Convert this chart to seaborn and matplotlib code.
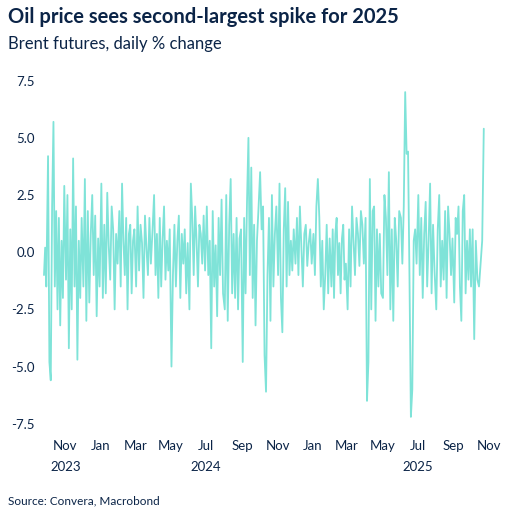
import matplotlib
matplotlib.use("Agg")
import matplotlib.pyplot as plt
import matplotlib.dates as mdates
import seaborn as sns
import pandas as pd

m2023_09 = [-1.0, 0.2, -1.5]
m2023_10 = [4.2, -4.8, -5.6, 2.0, 5.7, -1.5, 1.8, -2.5, 1.5, -3.2, 0.5, -2.0, 2.9]
m2023_11 = [-1.2, 2.5, -4.2, 1.0, -2.5, 4.1, -1.5, 2.0, -4.7, 0.5, -2.0, 1.5]
m2023_12 = [-1.5, 3.2, -3.0, 1.8, -2.2, 0.8, 2.5, -1.0, 1.6, -2.8, 0.6, -1.5]
m2024_01 = [3.0, -2.0, 1.2, -1.8, 2.6, 0.3, -1.2, 2.0, 1.0, -2.5, 0.8, -0.5]
m2024_02 = [1.8, -1.5, 3.0, 0.5, -1.0, 1.5, -2.5, 0.8, 1.2, -1.8, 0.5, 1.0]
m2024_03 = [-1.5, 2.0, -0.8, 1.2, 0.4, -2.0, 1.6, 0.2, -1.0, 1.5, -0.5, 0.8]
m2024_04 = [2.5, -1.0, 0.8, -2.0, 1.5, -1.5, 0.6, 2.0, -1.2, 0.5, -0.8, 1.0]
m2024_05 = [-5.0, -1.0, 1.2, -1.5, 0.5, 1.6, -2.0, 0.8, -0.5, 1.0, -1.8, 0.4]
m2024_06 = [-2.5, 3.0, 1.5, -1.0, 2.0, 0.5, -1.5, 1.2, 0.8, -0.5, 1.6, -0.8]
m2024_07 = [2.0, -1.0, 0.5, -4.2, 1.8, -1.5, 0.3, -2.8, 1.5, -1.0, 2.3, -1.8]
m2024_08 = [-2.5, 2.5, -3.0, 1.2, 3.2, -1.8, 0.8, -2.0, 1.5, -2.5, 0.6, 1.0]
m2024_09 = [-4.8, 1.5, -1.8, 2.2, 5.0, -1.0, 3.7, -2.0, 1.2, -3.2, 0.5, 1.8]
m2024_10 = [3.5, 1.0, 2.0, -4.5, -6.1, -1.0, 1.5, -3.0, 2.5, -1.5, 0.8, 2.0]
m2024_11 = [-1.0, 3.0, -2.0, -3.5, 1.0, 2.8, -1.5, 2.2, -1.0, 0.5, -0.8, 1.0]
m2024_12 = [-0.5, 1.5, -1.0, 2.0, 0.3, -1.5, 0.8, 1.2, -0.6, 0.4, 1.0, -0.5]
m2025_01 = [0.8, -1.0, 2.0, 3.2, 1.5, -1.5, 0.5, -2.5, -1.0, 1.2, -1.8, 0.6]
m2025_02 = [-1.5, 1.0, -2.0, 0.8, 1.5, -1.0, 0.4, -1.8, 0.6, 1.2, -1.2, -0.5]
m2025_03 = [-2.5, 1.0, -1.5, 2.0, 0.5, -1.0, 1.5, 0.8, -0.6, 1.8, 1.2, -0.5]
m2025_04 = [1.5, -6.5, -4.8, 3.2, -2.5, 1.8, 2.0, -3.0, 1.0, -1.5, 0.8, -1.8]
m2025_05 = [-2.0, 2.5, 1.5, -1.0, 3.5, -2.5, 1.0, -3.0, 1.5, 0.5, -1.5, 1.8]
m2025_06 = [1.5, -0.5, 2.0, 7.0, 4.3, 4.4, -1.0, -7.2, -6.0, 0.5, 1.0, -0.5]
m2025_07 = [2.5, -1.0, 1.5, -2.0, 0.8, 2.2, -1.5, 0.5, 3.0, -1.8, 1.2, -0.8]
m2025_08 = [-2.5, 1.0, 2.5, -1.5, 0.5, -1.2, 1.8, -2.0, 2.0, 0.8, -1.0, 0.6]
m2025_09 = [-2.2, 1.5, 0.8, 2.0, -1.5, -3.0, 1.8, 2.5, -1.8, 0.5, -1.2, 1.0]
m2025_10 = [-1.5, 1.0, -3.8, 0.5, -1.2, -1.5, -0.5, 0.5, 5.4]

months = [m2023_09, m2023_10, m2023_11, m2023_12, m2024_01, m2024_02, m2024_03,
          m2024_04, m2024_05, m2024_06, m2024_07, m2024_08, m2024_09, m2024_10,
          m2024_11, m2024_12, m2025_01, m2025_02, m2025_03, m2025_04, m2025_05,
          m2025_06, m2025_07, m2025_08, m2025_09, m2025_10]

month_starts = pd.date_range("2023-09-01", periods=len(months), freq="MS")
dates, vals = [], []
for i, (ms, mv) in enumerate(zip(month_starts, months)):
    me = ms + pd.offsets.MonthEnd(0)
    if i == 0:
        a, b = pd.Timestamp("2023-09-25"), pd.Timestamp("2023-09-29")
    elif i == len(months) - 1:
        a, b = ms, pd.Timestamp("2025-10-23")
    else:
        a, b = ms + pd.Timedelta(days=1), me - pd.Timedelta(days=1)
    dates.extend(pd.date_range(a, b, periods=len(mv)))
    vals.extend(mv)
df = pd.DataFrame({"date": dates, "change": vals})

sns.set_style("white")
plt.rcParams['font.family'] = ['Lato', 'DejaVu Sans']
navy = "#0b2447"
fig = plt.figure(figsize=(5.12, 5.15), dpi=100)
ax = fig.add_axes([0.078, 0.155, 0.885, 0.715])
sns.lineplot(data=df, x="date", y="change", ax=ax, color="#7fe3d8", linewidth=1.3)
ax.set_xlim(pd.Timestamp("2023-09-18"), pd.Timestamp("2025-11-08"))
ax.set_ylim(-8.0, 8.1)
ax.set_yticks([-7.5, -5.0, -2.5, 0.0, 2.5, 5.0, 7.5])
ax.set_yticklabels(["-7.5", "-5.0", "-2.5", "0.0", "2.5", "5.0", "7.5"])
ax.xaxis.set_major_locator(mdates.MonthLocator(bymonth=[1, 3, 5, 7, 9, 11]))
def fmt(x, pos=None):
    d = mdates.num2date(x)
    s = d.strftime("%b")
    if (d.year == 2023 and d.month == 11) or (d.year in (2024, 2025) and d.month == 7):
        s += "\n" + str(d.year)
    return s
ax.xaxis.set_major_formatter(plt.FuncFormatter(fmt))
for sp in ax.spines.values():
    sp.set_visible(False)
ax.tick_params(axis="both", colors=navy, labelsize=9.5, length=0)
ax.set_xlabel("")
ax.set_ylabel("")
for lab in ax.get_xticklabels():
    lab.set_linespacing(1.9)
    lab.set_verticalalignment("top")
fig.text(0.015, 0.955, "Oil price sees second-largest spike for 2025", fontsize=14.5,
         fontweight="bold", color=navy)
fig.text(0.015, 0.905, "Brent futures, daily % change", fontsize=12, color=navy)
fig.text(0.015, 0.02, "Source: Convera, Macrobond", fontsize=8.5, color=navy)
fig.savefig("out.png", dpi=100)
